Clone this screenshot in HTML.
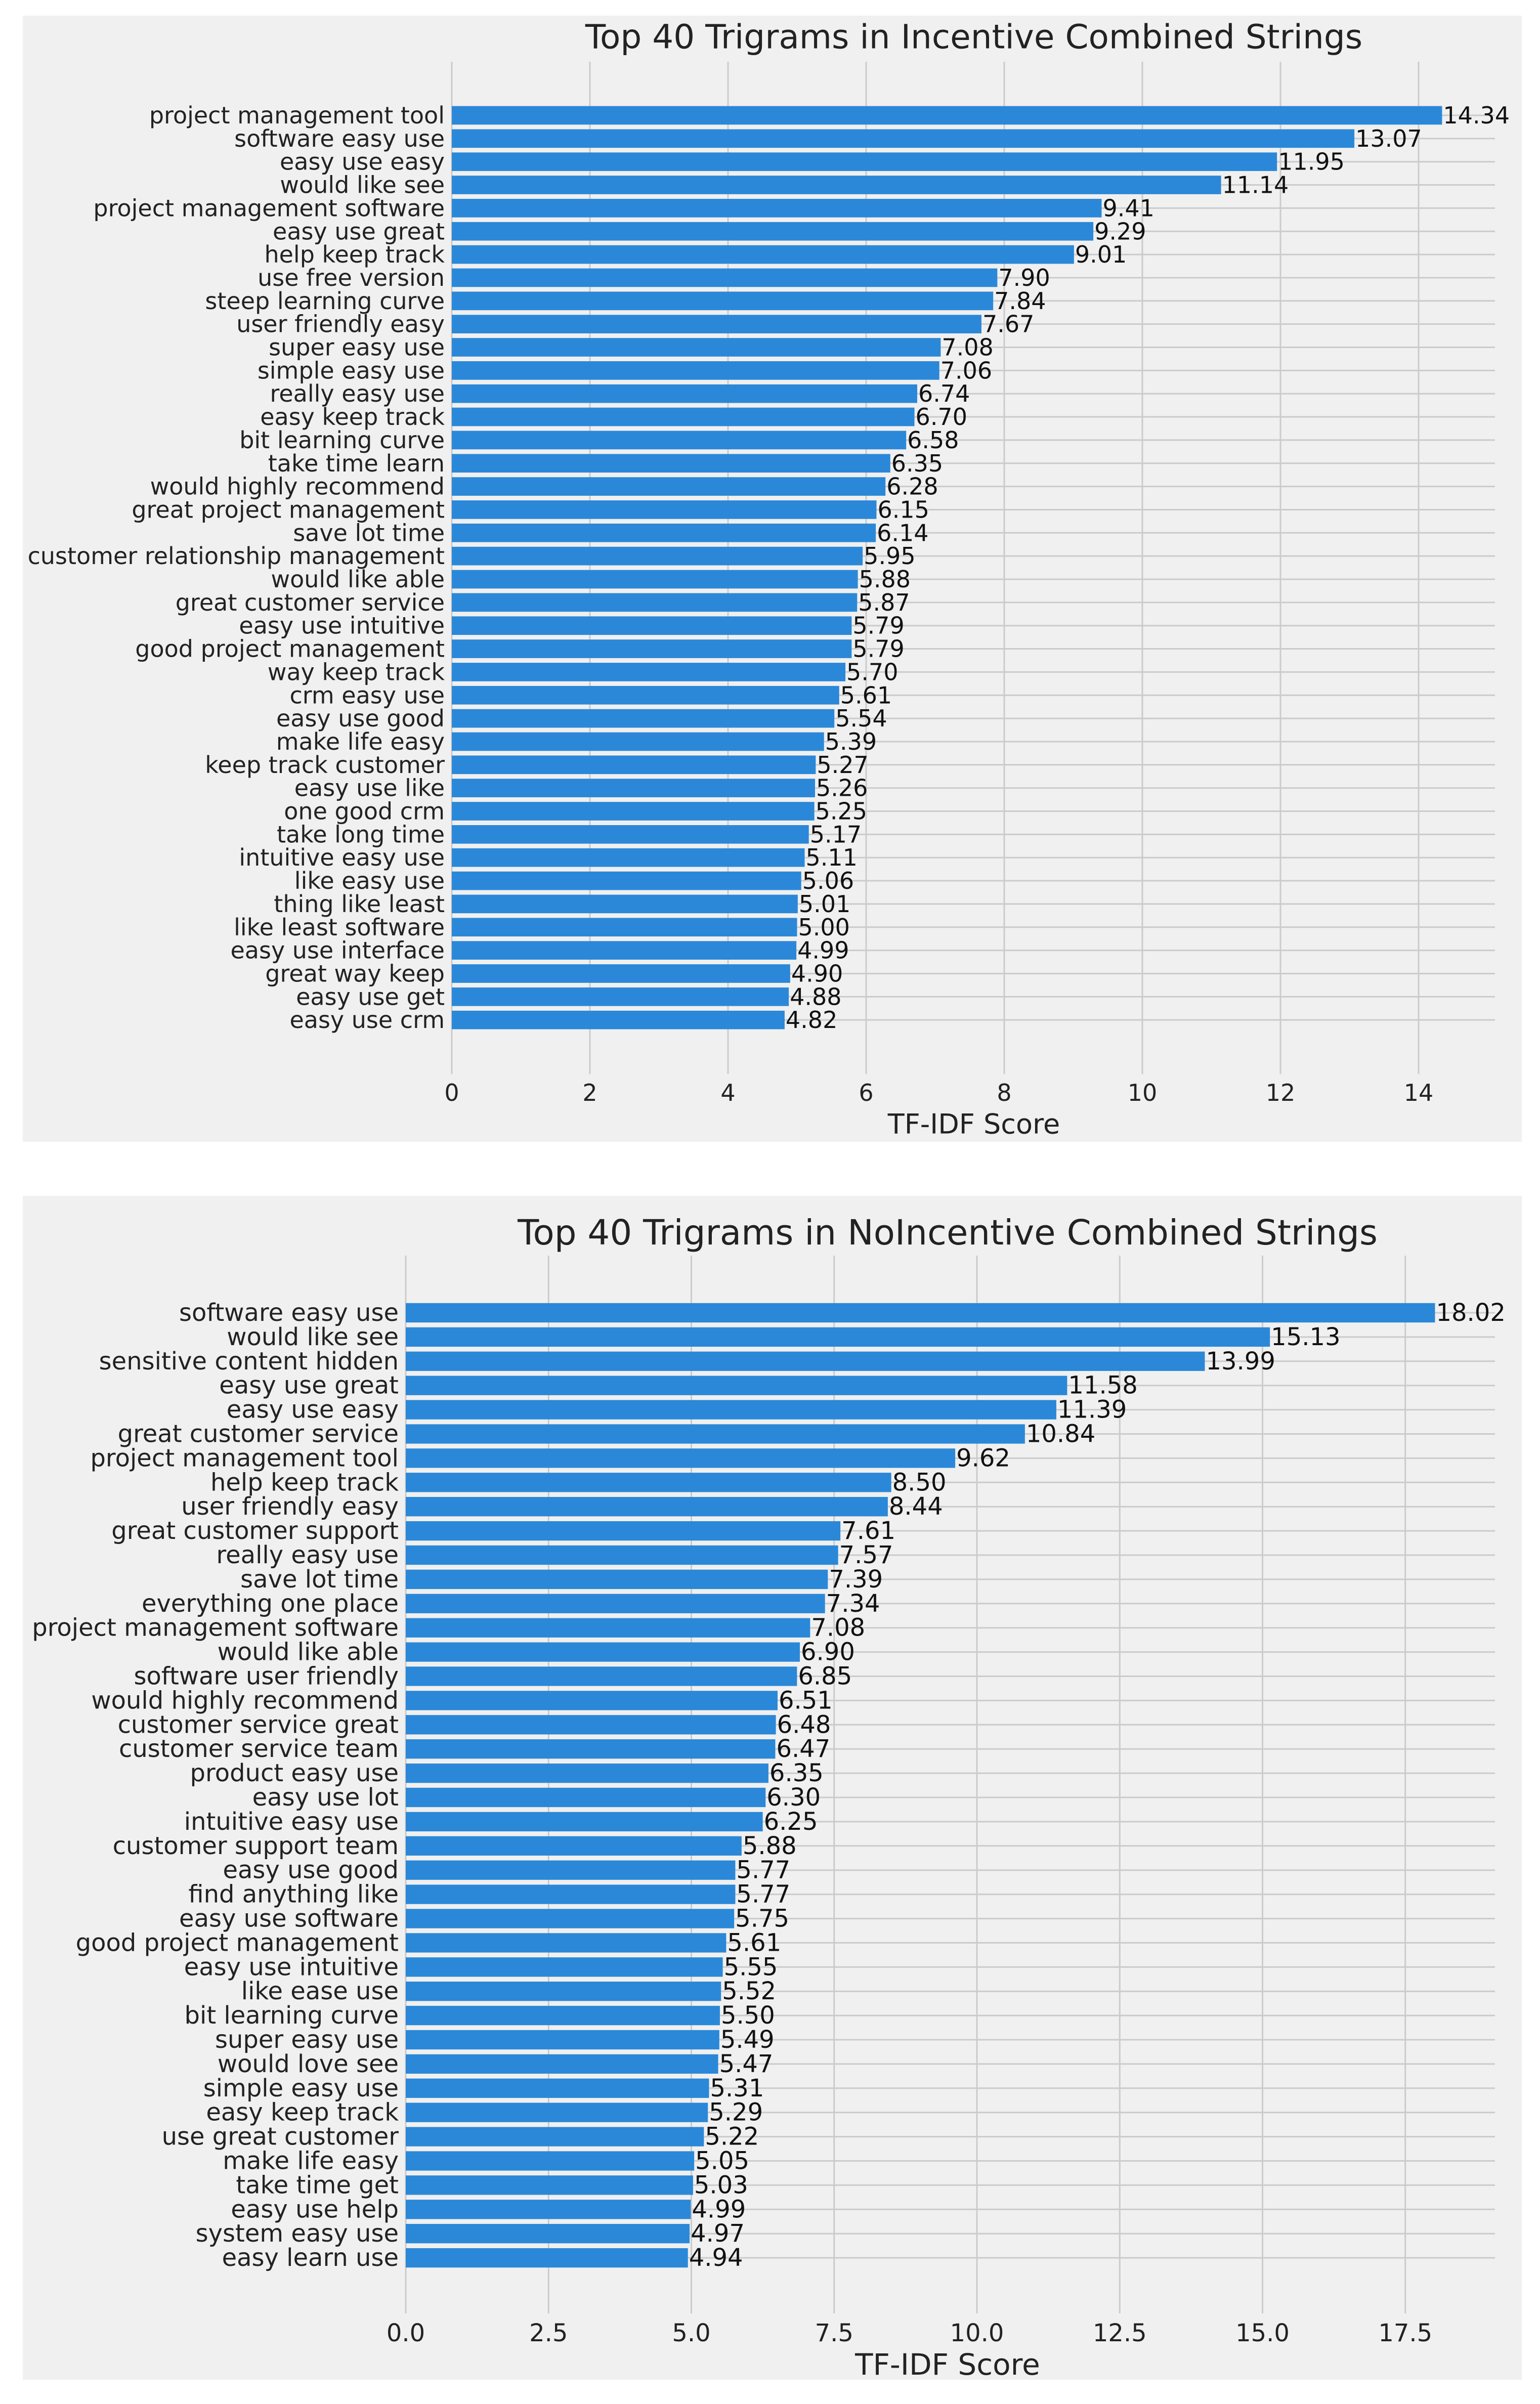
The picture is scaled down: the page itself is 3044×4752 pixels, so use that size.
<!DOCTYPE html>
<html><head><meta charset="utf-8">
<style>
html,body{margin:0;padding:0;background:#fff;}
svg{display:block;font-family:"DejaVu Sans","Liberation Sans",sans-serif;}
</style></head>
<body>
<svg id="chart" width="3044" height="4752" viewBox="0 0 3044 4752" xmlns="http://www.w3.org/2000/svg"></svg>
<script>
const incCategories = ["project management tool","software easy use","easy use easy","would like see","project management software","easy use great","help keep track","use free version","steep learning curve","user friendly easy","super easy use","simple easy use","really easy use","easy keep track","bit learning curve","take time learn","would highly recommend","great project management","save lot time","customer relationship management","would like able","great customer service","easy use intuitive","good project management","way keep track","crm easy use","easy use good","make life easy","keep track customer","easy use like","one good crm","take long time","intuitive easy use","like easy use","thing like least","like least software","easy use interface","great way keep","easy use get","easy use crm"];
const incValues = [14.34,13.07,11.95,11.14,9.41,9.29,9.01,7.90,7.84,7.67,7.08,7.06,6.74,6.70,6.58,6.35,6.28,6.15,6.14,5.95,5.88,5.87,5.79,5.79,5.70,5.61,5.54,5.39,5.27,5.26,5.25,5.17,5.11,5.06,5.01,5.00,4.99,4.90,4.88,4.82];
const incTicks = [0,2,4,6,8,10,12,14];
const incTickLabels = ["0","2","4","6","8","10","12","14"];

const noCategories = ["software easy use","would like see","sensitive content hidden","easy use great","easy use easy","great customer service","project management tool","help keep track","user friendly easy","great customer support","really easy use","save lot time","everything one place","project management software","would like able","software user friendly","would highly recommend","customer service great","customer service team","product easy use","easy use lot","intuitive easy use","customer support team","easy use good","find anything like","easy use software","good project management","easy use intuitive","like ease use","bit learning curve","super easy use","would love see","simple easy use","easy keep track","use great customer","make life easy","take time get","easy use help","system easy use","easy learn use"];
const noValues = [18.02,15.13,13.99,11.58,11.39,10.84,9.62,8.50,8.44,7.61,7.57,7.39,7.34,7.08,6.90,6.85,6.51,6.48,6.47,6.35,6.30,6.25,5.88,5.77,5.77,5.75,5.61,5.55,5.52,5.50,5.49,5.47,5.31,5.29,5.22,5.05,5.03,4.99,4.97,4.94];
const noTicks = [0,2.5,5,7.5,10,12.5,15,17.5];
const noTickLabels = ["0.0","2.5","5.0","7.5","10.0","12.5","15.0","17.5"];

const NS = "http://www.w3.org/2000/svg";
const svg = document.getElementById('chart');
function mk(tag, attrs, parent){
  const e = document.createElementNS(NS, tag);
  for (const k in attrs) e.setAttribute(k, attrs[k]);
  (parent||svg).appendChild(e);
  return e;
}

function drawChart(cfg, cats, vals, ticks, tickLabels, prefix){
  const g = mk('g', {});
  
  
  const bg = mk('rect', {x:cfg.px, y:cfg.py, width:cfg.pw, height:cfg.ph, fill:'#f0f0f0'}, g);
  
  
  const xs = v => cfg.x0 + v * cfg.unit;
  const ys = i => cfg.y0 + i * cfg.pitch;
  const fs = cfg.fs;
  ticks.forEach((t, i) => {
    const l = mk('line', {x1:xs(t), x2:xs(t), y1:cfg.gridTop, y2:cfg.gridBottom, stroke:'#cbcbcb', 'stroke-width':3}, g);
    
    
    const tx = mk('text', {x:xs(t), y:cfg.tickY, 'font-size':fs, 'text-anchor':'middle', 'dominant-baseline':'central', fill:'#222'}, g);
    tx.textContent = tickLabels[i];
    
    
  });
  cats.forEach((c, i) => {
    const l = mk('line', {x1:cfg.x0, x2:cfg.gridRight, y1:ys(i), y2:ys(i), stroke:'#cbcbcb', 'stroke-width':3}, g);
    
    
  });
  const bh = cfg.pitch * 0.8;
  cats.forEach((c, i) => {
    const r = mk('rect', {x:xs(0), y:ys(i) - bh/2, width:xs(vals[i]) - xs(0), height:bh, fill:'#2b88d8'}, g);
    
    
    const lab = mk('text', {x:cfg.x0 - 14, y:ys(i), 'font-size':fs, 'text-anchor':'end', 'dominant-baseline':'central', fill:'#222'}, g);
    lab.textContent = c;
    
    
    const vt = mk('text', {x:xs(vals[i]) + 2, y:ys(i), 'font-size':fs, 'text-anchor':'start', 'dominant-baseline':'central', fill:'#111'}, g);
    vt.textContent = vals[i].toFixed(2);
    
    
  });
  const title = mk('text', {x:cfg.titleX, y:cfg.titleY, 'font-size':cfg.tfs, 'text-anchor':'middle', 'dominant-baseline':'central', fill:'#222'}, g);
  title.textContent = cfg.title;
  
  
  const xl = mk('text', {x:cfg.xlabelX, y:cfg.xlabelY, 'font-size':cfg.xfs, 'text-anchor':'middle', 'dominant-baseline':'central', fill:'#222'}, g);
  xl.textContent = 'TF-IDF Score';
  
  
}

drawChart({px:45, py:31, pw:2963, ph:2226, x0:893, unit:136.5, y0:228, pitch:45.85,
  gridTop:122, gridBottom:2123, gridRight:2955, tickY:2160, title:'Top 40 Trigrams in Incentive Combined Strings',
  titleX:1925, titleY:73, xlabelX:1925, xlabelY:2222, fs:46, tfs:66, xfs:54}, incCategories, incValues, incTicks, incTickLabels, 'incentive');

drawChart({px:45, py:2364, pw:2963, ph:2340, x0:802, unit:112.9, y0:2595, pitch:47.9,
  gridTop:2482, gridBottom:4573, gridRight:2955, tickY:4612, title:'Top 40 Trigrams in NoIncentive Combined Strings',
  titleX:1873, titleY:2437, xlabelX:1873, xlabelY:4674, fs:48, tfs:69, xfs:58}, noCategories, noValues, noTicks, noTickLabels, 'no-incentive');
</script>
</body></html>
